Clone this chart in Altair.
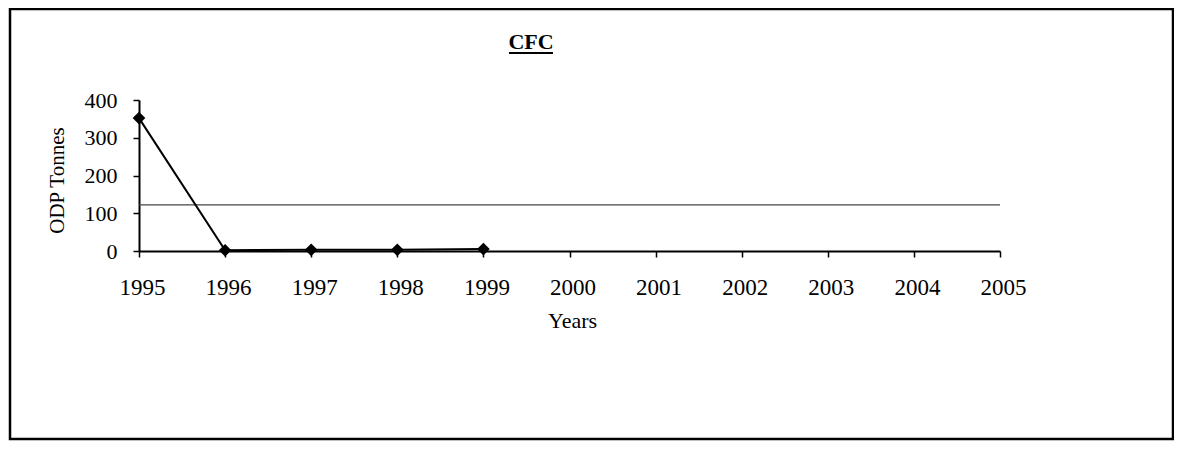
import altair as alt
import pandas as pd

years = [1995, 1996, 1997, 1998, 1999]
odp_tonnes = [352, 2, 3, 3, 5]
baseline_value = 122
x_domain = [1995, 2005]
y_ticks = [0, 100, 200, 300, 400]
x_ticks = list(range(1995, 2006))

df = pd.DataFrame({"year": years, "odp": odp_tonnes})
ref = pd.DataFrame({"year": [x_domain[0]], "x2": [x_domain[1]], "odp": [baseline_value]})

FONT = "Liberation Serif"

x_axis = alt.Axis(values=x_ticks, format="d", title="Years", grid=False,
                  labelFontSize=23, titleFontSize=22, titleFontWeight="normal",
                  labelPadding=19, labelOffset=3, labelOverlap=False, labelFlush=False,
                  titleX=433, titleY=69, titleBaseline="middle", titleAlign="center",
                  tickSize=6, domainWidth=2, tickWidth=1.5,
                  domainColor="black", tickColor="black", labelColor="black",
                  titleColor="black", labelFont=FONT, titleFont=FONT)
y_axis = alt.Axis(values=y_ticks, title="ODP Tonnes", grid=False,
                  labelFontSize=22, titleFontSize=21, titleFontWeight="normal",
                  labelPadding=16, labelOverlap=False, labelFlush=False,
                  titleX=-82, titleY=80, titleAngle=-90, titleBaseline="middle",
                  titleAlign="center", tickSize=6,
                  domainWidth=2, tickWidth=1.5,
                  domainColor="black", tickColor="black", labelColor="black",
                  titleColor="black", labelFont=FONT, titleFont=FONT)
x_scale = alt.Scale(domain=x_domain, nice=False, zero=False)
y_scale = alt.Scale(domain=[0, 400], nice=False)

def xe():
    return alt.X("year:Q", scale=x_scale, axis=x_axis)

def ye():
    return alt.Y("odp:Q", scale=y_scale, axis=y_axis)

line = alt.Chart(df).mark_line(color="black", strokeWidth=2).encode(x=xe(), y=ye())
pts = alt.Chart(df).mark_point(shape="diamond", filled=True, color="black", size=160, opacity=1).encode(
    x=xe(), y=ye())

rule = alt.Chart(ref).mark_rule(color="#444444", strokeWidth=1.3).encode(
    x=xe(), x2="x2:Q", y=ye())

title = alt.Chart(pd.DataFrame({"t": ["CFC"]})).mark_text(
    font=FONT, fontSize=22, fontWeight="bold", color="black", align="center", baseline="alphabetic"
).encode(x=alt.value(392), y=alt.value(-51), text="t:N")
underline = alt.Chart(pd.DataFrame({"t": ["CFC"]})).mark_rule(color="black", strokeWidth=2).encode(
    x=alt.value(370), x2=alt.value(414), y=alt.value(-47))

frame = alt.Chart(pd.DataFrame({"t": [0]})).mark_rect(fill=None, stroke="black", strokeWidth=2.5).encode(
    x=alt.value(-129), x2=alt.value(1034), y=alt.value(-91), y2=alt.value(339))

chart = alt.layer(frame, rule, line, pts, title, underline).properties(
    width=861, height=151,
    background="white",
    autosize=alt.AutoSizeParams(type="none"),
    padding={"left": 131, "top": 92, "right": 174, "bottom": 190},
).configure_view(strokeWidth=0, stroke=None)

chart.save("out.html", embed_options={"renderer": "svg", "actions": False})
